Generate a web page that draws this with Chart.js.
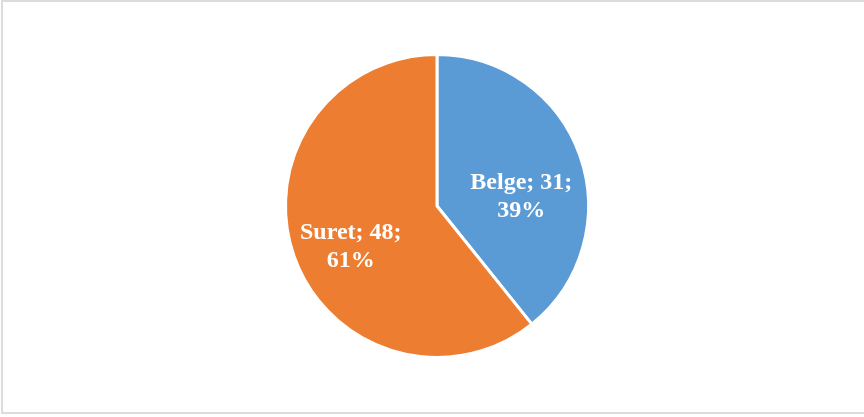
<!DOCTYPE html>
<html>
<head>
<meta charset="utf-8">
<script src="https://cdn.jsdelivr.net/npm/chart.js@4/dist/chart.umd.min.js"></script>
<style>
  html, body { margin: 0; padding: 0; background: #fff; overflow: hidden; }
  #frame {
    position: absolute; left: 1px; top: 0; width: 900px; height: 410px;
    border: 2px solid #dcdcdc; box-sizing: content-box;
  }
  #wrap { position: absolute; left: 0; top: 0; width: 864px; height: 417px; }
</style>
</head>
<body>
<div id="frame"></div>
<div id="wrap"><canvas id="pie" width="864" height="417"></canvas></div>
<script>
const categories = ['Belge', 'Suret'];
const counts = [31, 48];
const colors = ['#5b9bd5', '#ed7d31'];
// label placement relative to each slice: angle shift (deg) and distance (fraction of radius)
const labelAngleShift = [13, -6];
const labelDistance = [0.56, 0.63];

const total = counts.reduce((a, b) => a + b, 0);

const sliceLabels = {
  id: 'sliceLabels',
  afterDatasetsDraw(chart) {
    const ctx = chart.ctx;
    const meta = chart.getDatasetMeta(0);
    ctx.save();
    ctx.fillStyle = '#ffffff';
    ctx.font = 'bold 24px "Liberation Serif", "Times New Roman", serif';
    ctx.textAlign = 'center';
    ctx.textBaseline = 'middle';
    meta.data.forEach((arc, i) => {
      const p = arc.getProps(['x', 'y', 'startAngle', 'endAngle', 'outerRadius'], true);
      const mid = (p.startAngle + p.endAngle) / 2 + labelAngleShift[i] * Math.PI / 180;
      const r = p.outerRadius * labelDistance[i];
      const x = p.x + Math.cos(mid) * r;
      const y = p.y + Math.sin(mid) * r;
      const pct = Math.round(counts[i] / total * 100);
      ctx.fillText(categories[i] + '; ' + counts[i] + ';', x, y - 14);
      ctx.fillText(pct + '%', x, y + 14);
    });
    ctx.restore();
  }
};

new Chart(document.getElementById('pie'), {
  type: 'pie',
  data: {
    labels: categories,
    datasets: [{
      data: counts,
      backgroundColor: colors,
      borderColor: '#ffffff',
      borderWidth: 3
    }]
  },
  options: {
    responsive: false,
    animation: false,
    layout: { padding: { left: 10, right: 0, top: 53, bottom: 58 } },
    plugins: {
      legend: { display: false },
      tooltip: { enabled: false }
    }
  },
  plugins: [sliceLabels]
});
</script>
</body>
</html>
